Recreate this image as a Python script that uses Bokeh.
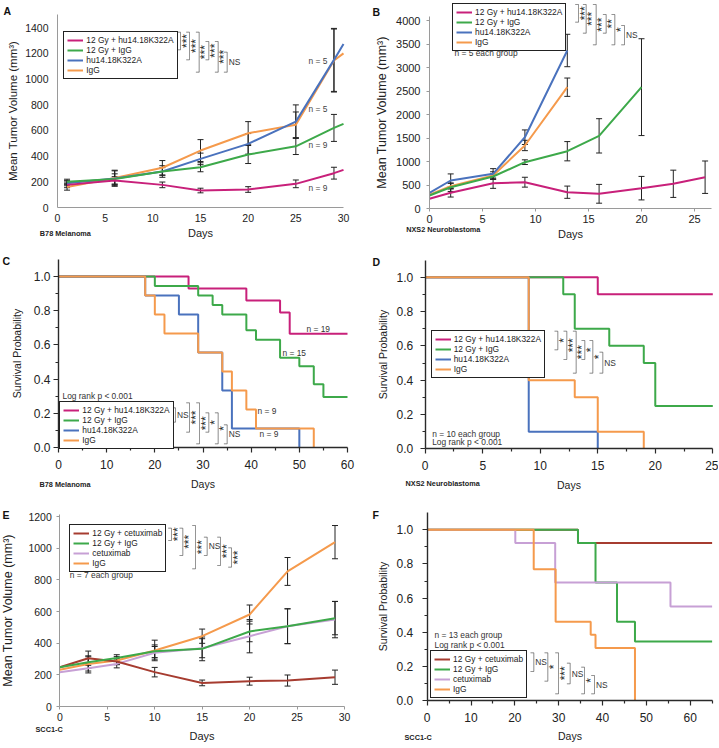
import math
from bokeh.plotting import figure
from bokeh.models import (Range1d, FixedTicker, Legend, LegendItem, Label, PolyAnnotation,
                          Whisker, ColumnDataSource, TeeHead, NumeralTickFormatter, LinearAxis)
from bokeh.embed import file_html
from bokeh.resources import INLINE

FONT = "Liberation Sans"
NAN = float("nan")

C_PINK = "#c8207a"
C_GREEN = "#3da94a"
C_BLUE = "#4a72bd"
C_ORANGE = "#f59a4c"
C_RED = "#a63c30"
C_LILAC = "#c7a0d5"

# ---------------- data ----------------
hu_labels = ["12 Gy + hu14.18K322A", "12 Gy + IgG", "hu14.18K322A", "IgG"]
cx_labels = ["12 Gy + cetuximab", "12 Gy + IgG", "cetuximab", "IgG"]

# A  B78 melanoma tumour volume
a_days = [1, 6, 11, 15, 20, 25, 29, 30]
a_pink = [176, 210, 176, 132, 140, 184, 267, 293]
a_green = [200, 222, 280, 313, 412, 476, 619, 650]
a_blue = [189, 225, 280, 378, 495, 668, 1148, 1272]
a_orange = [160, 230, 309, 443, 578, 643, 1143, 1199]
a_pink_err = [22, 30, 22, 18, 22, 30, 46, NAN]
a_green_err = [20, 40, 30, 35, 70, 64, 105, NAN]
a_blue_err = [20, 60, 45, 45, 80, 130, 245, NAN]
a_orange_err = [25, 60, 56, 85, 90, 100, 245, NAN]

# B  NXS2 neuroblastoma tumour volume
b_days = [0, 2, 6, 9, 13, 16, 20, 23, 26]
b_pink = [210, 338, 543, 564, 351, 317, 437, 530, 670]
b_pink_err = [NAN, 90, 110, 105, 130, 200, 250, 290, 345]
b_green_days = [0, 2, 6, 9, 13, 16, 20]
b_green = [281, 457, 685, 990, 1223, 1550, 2586]
b_green_err = [NAN, 90, 60, 50, 205, 365, 1030]
b_short_days = [0, 2, 6, 9, 13]
b_blue = [338, 600, 742, 1521, 3366]
b_blue_err = [NAN, 140, 110, 155, 345]
b_orange = [300, 480, 706, 1345, 2585]
b_orange_err = [NAN, 60, 80, 110, 195]

# C  B78 survival
c_pink_t = [0, 27, 39, 46, 48, 60]
c_pink_s = [1.0, 0.93, 0.86, 0.79, 0.665, 0.665]
c_green_t = [0, 20, 29, 32, 34, 39, 41, 46, 50, 53, 55, 60]
c_green_s = [1.0, 0.944, 0.889, 0.833, 0.778, 0.685, 0.63, 0.525, 0.475, 0.37, 0.296, 0.296]
c_blue_t = [0, 18, 25, 29, 34, 36, 50]
c_blue_s = [1.0, 0.889, 0.778, 0.556, 0.333, 0.111, 0.0]
c_orange_t = [0, 18, 20, 22, 29, 34, 36, 39, 41, 53]
c_orange_s = [1.0, 0.889, 0.778, 0.667, 0.556, 0.444, 0.333, 0.222, 0.111, 0.0]

# D  NXS2 survival
d_pink_t = [0, 15, 25]
d_pink_s = [1.0, 0.9, 0.9]
d_green_t = [0, 12, 13, 16, 19, 20, 25]
d_green_s = [1.0, 0.9, 0.7, 0.6, 0.5, 0.25, 0.25]
d_blue_t = [0, 9, 15]
d_blue_s = [1.0, 0.1, 0.0]
d_orange_t = [0, 9, 13, 15, 19]
d_orange_s = [1.0, 0.4, 0.3, 0.1, 0.0]

# E  SCC1-C tumour volume
e_days = [0, 3, 6, 10, 15, 20, 24, 29]
e_red = [248, 305, 284, 217, 149, 160, 164, 185]
e_red_err = [NAN, 45, 20, 30, 18, 25, 35, 45]
e_green = [248, 280, 307, 349, 364, 474, 507, 558]
e_green_err = [NAN, 40, 20, 40, 75, 65, 110, 105]
e_lilac = [217, 242, 269, 339, 368, 444, 507, 549]
e_lilac_err = [NAN, 30, 25, 40, 60, 105, 110, 115]
e_orange = [232, 269, 290, 354, 444, 581, 853, 1038]
e_orange_err = [NAN, 45, 25, 65, 45, 60, 88, 105]

# F  SCC1-C survival
f_red_t = [0, 34.4, 65]
f_red_s = [1.0, 0.923, 0.923]
f_green_t = [0, 34.4, 38.4, 43.3, 47.4, 65]
f_green_s = [1.0, 0.923, 0.692, 0.462, 0.346, 0.346]
f_lilac_t = [0, 20.1, 29.2, 55.5, 65]
f_lilac_s = [1.0, 0.923, 0.692, 0.55, 0.55]
f_orange_t = [0, 24.3, 29.3, 37.3, 38.4, 47.4]
f_orange_s = [1.0, 0.769, 0.462, 0.385, 0.308, 0.0]

LEG_DY = 4  # legend placement correction (px)
W, H = 718, 747


# ---------------- helpers ----------------
def make_conv(px_a, px_b, xa, xb, py_a, py_b, ya, yb):
    """map page pixels to a panel's data coordinates (linear, fixed by two ticks per axis)"""
    sx = (xb - xa) / (px_b - px_a)
    sy = (yb - ya) / (py_a - py_b)

    def conv(px, py):
        return xa + (px - px_a) * sx, ya + (py_a - py) * sy
    return conv


convs = {
    "A": make_conv(57, 343, 0, 30, 207, 27, 0, 1400),
    "B": make_conv(429, 694, 0, 25, 208.2, 20.2, 0, 4000),
    "C": make_conv(58, 347, 0, 60, 447, 276, 0, 1.0),
    "D": make_conv(424.7, 712.3, 0, 25, 448.3, 276.7, 0, 1.0),
    "E": make_conv(59.3, 344, 0, 30, 706, 516, 0, 1200),
    "F": make_conv(426.7, 689.7, 0, 60, 700, 529.3, 0, 1.0),
}
xr, yr = {}, {}
for name, cv in convs.items():
    x0, y0 = cv(0, H)
    x1, y1 = cv(W, 0)
    xr[name] = Range1d(x0, x1)
    yr[name] = Range1d(y0, y1)

p = figure(width=W, height=H, x_range=Range1d(0, W), y_range=Range1d(0, H),
           x_axis_type=None, y_axis_type=None,
           output_backend="svg", toolbar_location=None, title=None,
           min_border=0, min_border_left=0, min_border_right=0,
           min_border_top=0, min_border_bottom=0)
p.extra_x_ranges = xr
p.extra_y_ranges = yr
p.outline_line_color = None
p.background_fill_color = "white"
p.border_fill_color = "white"


def RN(name):
    return dict(x_range_name=name, y_range_name=name)


def add_axes(name, km, xb, yb, xt, yt, xminor, yminor, tick_fs, xtitle_fs, ytitle_fs, ytitle,
             tick_out, x_std, x_tstd, y_std, y_tstd):
    col = "#2a2a2a" if km else "#9a9a9a"
    xa = LinearAxis(fixed_location=0, bounds=xb, ticker=FixedTicker(ticks=xt, minor_ticks=xminor),
                    axis_label="Days", **RN(name))
    ya = LinearAxis(fixed_location=0, bounds=yb, ticker=FixedTicker(ticks=yt, minor_ticks=yminor),
                    axis_label=ytitle, **RN(name))
    if km:
        ya.formatter = NumeralTickFormatter(format="0.0")
    for ax in (xa, ya):
        ax.axis_line_color = col
        ax.axis_line_width = 1.4 if km else 1
        ax.major_tick_line_color = col
        ax.minor_tick_line_color = col
        ax.major_tick_line_width = 1.2 if km else 1
        ax.minor_tick_line_width = 1.2 if km else 1
        ax.major_tick_in = 0
        ax.minor_tick_in = 0
        ax.major_tick_out = tick_out
        ax.minor_tick_out = 3 if km else 0
        ax.major_label_text_font = FONT
        ax.major_label_text_font_size = f"{tick_fs}px"
        ax.major_label_text_color = "#222"
        ax.axis_label_text_font = FONT
        ax.axis_label_text_font_style = "normal"
        ax.axis_label_text_color = "#222"
    xa.axis_label_text_font_size = f"{xtitle_fs}px"
    ya.axis_label_text_font_size = f"{ytitle_fs}px"
    xa.major_label_standoff = x_std
    xa.axis_label_standoff = x_tstd
    ya.major_label_standoff = y_std
    ya.axis_label_standoff = y_tstd
    p.add_layout(xa, "below")
    p.add_layout(ya, "left")


def add_text(name, px, py, text, size=8.4, align="left", color="#333", angle=0.0, bold=False):
    x, y = convs[name](px, py)
    p.add_layout(Label(x=x, y=y, text=text, text_font=FONT, text_font_size=f"{size}px",
                       text_color=color, text_align=align, text_baseline="middle", angle=angle,
                       text_font_style="bold" if bold else "normal", **RN(name)))


def add_bracket(name, px, py0, py1, text, arm=3.3):
    # bracket outline drawn in page-pixel coordinates of the default ranges (y measured upward)
    pts = [(px - arm, py0), (px, py0), (px, py1), (px - arm, py1), (px, py1), (px, py0)]
    xs = [a for a, b in pts]
    ys = [H - b for a, b in pts]
    p.add_layout(PolyAnnotation(xs=xs, ys=ys, fill_alpha=0, fill_color=None,
                                line_color="#333", line_width=1))
    mid = (py0 + py1) / 2
    if text.startswith("*"):
        add_text(name, px + 6, mid, text, size=12, align="center", angle=math.pi / 2, color="#2a2a2a")
    else:
        add_text(name, px + 1.5, mid, text, size=8.4)


def add_whiskers(name, xs, ys, errs):
    base, lo, hi = [], [], []
    for x, y, e in zip(xs, ys, errs):
        if e == e:
            base.append(x)
            lo.append(y - e)
            hi.append(y + e)
    src = ColumnDataSource(dict(base=base, lower=lo, upper=hi))
    p.add_layout(Whisker(source=src, base="base", lower="lower", upper="upper",
                         line_color="#222", line_width=1,
                         upper_head=TeeHead(size=6, line_color="#222", line_width=1),
                         lower_head=TeeHead(size=6, line_color="#222", line_width=1), **RN(name)))


def add_legend(labels, rends, box_left, box_bottom):
    items = [LegendItem(label=l, renderers=[r]) for l, r in zip(labels, rends)]
    leg = Legend(items=items, location=(box_left, H - box_bottom - LEG_DY),
                 orientation="vertical",
                 border_line_color="#222", border_line_width=1, border_line_alpha=1,
                 background_fill_color="white", background_fill_alpha=1,
                 padding=3, spacing=0, margin=0, glyph_width=16, glyph_height=10,
                 label_height=10, label_width=10, label_standoff=3,
                 label_text_font=FONT, label_text_font_size="8.4px", label_text_color="#222")
    p.add_layout(leg)


def line(name, x, y, col):
    return p.line(x, y, line_color=col, line_width=2, **RN(name))


def step(name, t, s, col):
    return p.step(t, s, mode="after", line_color=col, line_width=2, **RN(name))


# ---------------- panel A ----------------
add_axes("A", False, (0, 30), (0, 1500), list(range(0, 31, 5)), list(range(0, 1401, 200)), [], [],
         10.5, 11, 11.5, "Mean Tumor Volume (mm³)", 0, 6, 2, 9, 3)
rA = {}
rA["o"] = line("A", a_days, a_orange, C_ORANGE)
rA["b"] = line("A", a_days, a_blue, C_BLUE)
rA["g"] = line("A", a_days, a_green, C_GREEN)
rA["p"] = line("A", a_days, a_pink, C_PINK)
for vals, errs in [(a_pink, a_pink_err), (a_green, a_green_err), (a_blue, a_blue_err), (a_orange, a_orange_err)]:
    add_whiskers("A", a_days, vals, errs)
add_legend(hu_labels, [rA["p"], rA["g"], rA["b"], rA["o"]], 63.3, 75)
for px, y0, y1, t in [(180, 31.7, 49.3, "***"), (189, 31.7, 59.3, "***"), (198.7, 31.7, 71.7, "***"),
                      (208.3, 41, 59.3, "***"), (217.7, 41, 71.7, "***"), (226.7, 51.7, 71.7, "NS")]:
    add_bracket("A", px, y0, y1, t)
add_text("A", 308, 60, "n = 5", color="#444")
add_text("A", 308, 108.3, "n = 5", color="#444")
add_text("A", 308, 144, "n = 9", color="#444")
add_text("A", 308, 187.7, "n = 9", color="#444")
add_text("A", 3, 10.5, "A", size=10.5, bold=True, color="#111")
add_text("A", 39.3, 232.7, "B78 Melanoma", size=7.3, bold=True, color="#222")

# ---------------- panel B ----------------
add_axes("B", False, (0, 26.6), (0, 4100), list(range(0, 26, 5)), list(range(0, 4001, 500)), [], [],
         11, 11, 12.5, "Mean Tumor Volume (mm³)", 3, 3, 2, 6, 4)
rB = {}
rB["o"] = line("B", b_short_days, b_orange, C_ORANGE)
rB["b"] = line("B", b_short_days, b_blue, C_BLUE)
rB["g"] = line("B", b_green_days, b_green, C_GREEN)
rB["p"] = line("B", b_days, b_pink, C_PINK)
add_whiskers("B", b_days, b_pink, b_pink_err)
add_whiskers("B", b_green_days, b_green, b_green_err)
add_whiskers("B", b_short_days, b_blue, b_blue_err)
add_whiskers("B", b_short_days, b_orange, b_orange_err)
add_legend(hu_labels, [rB["p"], rB["g"], rB["b"], rB["o"]], 452, 47)
for px, y0, y1, t in [(578, 4, 21.7, "***"), (585.7, 4, 32.7, "***"), (595.7, 4, 44.3, "***"),
                      (605.7, 14, 32.7, "**"), (614.3, 14, 44.3, "*"), (624, 25, 44.3, "NS")]:
    add_bracket("B", px, y0, y1, t)
add_text("B", 454, 52, "n = 5 each group")
add_text("B", 372, 11, "B", size=10.5, bold=True, color="#111")
add_text("B", 405.7, 229.3, "NXS2 Neuroblastoma", size=7.3, bold=True, color="#222")

# ---------------- panel C ----------------
add_axes("C", True, (0, 60), (0, 1.1), list(range(0, 61, 10)), [0, 0.2, 0.4, 0.6, 0.8, 1.0],
         list(range(5, 60, 10)), [0.1, 0.3, 0.5, 0.7, 0.9], 12, 10.5, 10.5,
         "Survival Probability", 5, 7, 6, 3, 8)
rC = {}
rC["p"] = step("C", c_pink_t, c_pink_s, C_PINK)
rC["g"] = step("C", c_green_t, c_green_s, C_GREEN)
rC["b"] = step("C", c_blue_t, c_blue_s, C_BLUE)
rC["o"] = step("C", c_orange_t, c_orange_s, C_ORANGE)
add_legend(hu_labels, [rC["p"], rC["g"], rC["b"], rC["o"]], 59.3, 445)
for px, y0, y1, t in [(175, 407.3, 421.7, "NS"), (189, 402.3, 431.7, "***"), (199, 402.3, 443.3, "***"),
                      (208.3, 412.3, 431.7, "*"), (217.7, 412.3, 443.3, "*"), (226.7, 424.3, 443.3, "NS")]:
    add_bracket("C", px, y0, y1, t)
add_text("C", 306, 328, "n = 19")
add_text("C", 282, 352, "n = 15")
add_text("C", 257, 410, "n = 9")
add_text("C", 259, 433.3, "n = 9")
add_text("C", 62, 395, "Log rank p < 0.001")
add_text("C", 2, 260, "C", size=10.5, bold=True, color="#111")
add_text("C", 39, 484, "B78 Melanoma", size=7.3, bold=True, color="#222")

# ---------------- panel D ----------------
add_axes("D", True, (0, 25), (0, 1.1), list(range(0, 26, 5)), [0, 0.2, 0.4, 0.6, 0.8, 1.0],
         [2.5, 7.5, 12.5, 17.5, 22.5], [0.1, 0.3, 0.5, 0.7, 0.9], 12, 10.5, 10.5,
         "Survival Probability", 5, 7, 6, 7, 5)
rD = {}
rD["p"] = step("D", d_pink_t, d_pink_s, C_PINK)
rD["g"] = step("D", d_green_t, d_green_s, C_GREEN)
rD["b"] = step("D", d_blue_t, d_blue_s, C_BLUE)
rD["o"] = step("D", d_orange_t, d_orange_s, C_ORANGE)
add_legend(hu_labels, [rD["p"], rD["g"], rD["b"], rD["o"]], 430.7, 374)
for px, y0, y1, t in [(557.3, 330.7, 349.3, "*"), (566.3, 330.7, 359, "***"), (575.7, 330.7, 372.7, "***"),
                      (584.3, 340, 359, "*"), (592.3, 340, 372.7, "*"), (602.3, 351.7, 372.7, "NS")]:
    add_bracket("D", px, y0, y1, t)
add_text("D", 431.7, 433.3, "n = 10 each group")
add_text("D", 431.7, 441.7, "Log rank p < 0.001")
add_text("D", 372, 261, "D", size=10.5, bold=True, color="#111")
add_text("D", 405, 483.3, "NXS2 Neuroblastoma", size=7.3, bold=True, color="#222")

# ---------------- panel E ----------------
add_axes("E", False, (0, 30), (0, 1215), list(range(0, 31, 5)), list(range(0, 1201, 200)), [], [],
         10.5, 11, 12.5, "Mean Tumor Volume (mm³)", 3, 3, 6, 5, 10)
rE = {}
rE["l"] = line("E", e_days, e_lilac, C_LILAC)
rE["o"] = line("E", e_days, e_orange, C_ORANGE)
rE["r"] = line("E", e_days, e_red, C_RED)
rE["g"] = line("E", e_days, e_green, C_GREEN)
for vals, errs in [(e_red, e_red_err), (e_green, e_green_err), (e_lilac, e_lilac_err), (e_orange, e_orange_err)]:
    add_whiskers("E", e_days, vals, errs)
add_legend(cx_labels, [rE["r"], rE["g"], rE["l"], rE["o"]], 69.3, 568.3)
for px, y0, y1, t in [(171, 527.7, 540, "***"), (182.3, 527.7, 555, "***"), (195, 525, 568.3, "***"),
                      (206.7, 536.7, 555, "NS"), (220, 536.7, 565, "***"), (231, 547.3, 566.7, "***")]:
    add_bracket("E", px, y0, y1, t)
add_text("E", 69.3, 574, "n = 7 each group")
add_text("E", 2, 514.5, "E", size=10.5, bold=True, color="#111")
add_text("E", 35, 729.3, "SCC1-C", size=7.3, bold=True, color="#222")

# ---------------- panel F ----------------
add_axes("F", True, (0, 65), (0, 1.1), list(range(0, 61, 10)), [0, 0.2, 0.4, 0.6, 0.8, 1.0],
         list(range(5, 66, 10)), [0.1, 0.3, 0.5, 0.7, 0.9], 12, 10.5, 10.5,
         "Survival Probability", 5, 7, 5, 9, 5)
rF = {}
rF["r"] = step("F", f_red_t, f_red_s, C_RED)
rF["g"] = step("F", f_green_t, f_green_s, C_GREEN)
rF["l"] = step("F", f_lilac_t, f_lilac_s, C_LILAC)
rF["o"] = step("F", f_orange_t, f_orange_s, C_ORANGE)
add_legend(cx_labels, [rF["r"], rF["g"], rF["l"], rF["o"]], 430, 694)
for px, y0, y1, t in [(533.3, 652.3, 671, "NS"), (547.3, 652.3, 680.7, "*"), (558, 652.3, 693.3, "***"),
                      (569.7, 662.7, 683.3, "NS"), (584, 666.7, 693.3, "*"), (594, 675, 693.3, "NS")]:
    add_bracket("F", px, y0, y1, t)
add_text("F", 434, 634.3, "n = 13 each group")
add_text("F", 434, 644, "Log rank p < 0.001")
add_text("F", 372, 514.5, "F", size=10.5, bold=True, color="#111")
add_text("F", 404, 736.7, "SCC1-C", size=7.3, bold=True, color="#222")

open("out.html", "w").write(file_html(p, INLINE))
